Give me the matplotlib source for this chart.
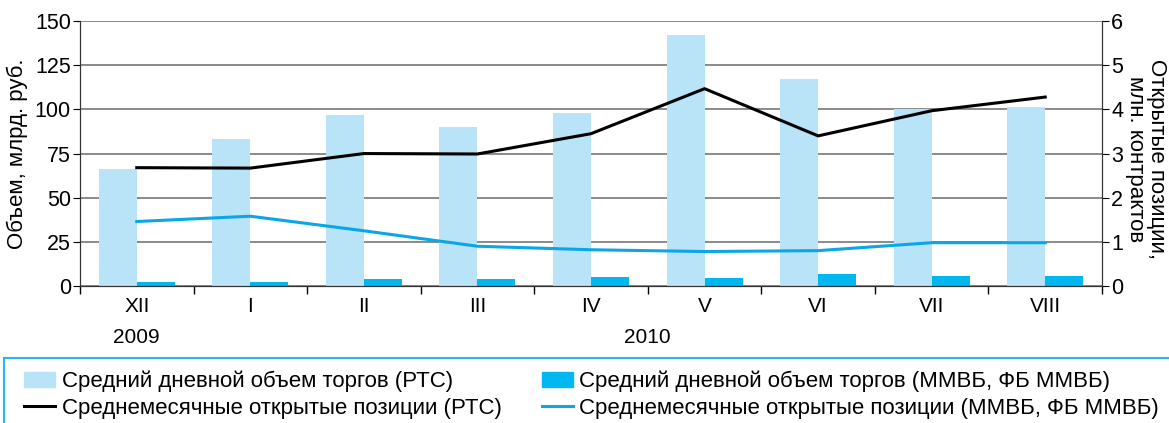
import numpy as np
import matplotlib.pyplot as plt
from matplotlib.patches import Rectangle, Patch
from matplotlib.lines import Line2D

plt.rcParams['font.family'] = ['Liberation Sans', 'DejaVu Sans']

# Data
months = ["XII", "I", "II", "III", "IV", "V", "VI", "VII", "VIII"]
vol_rts = [66, 83.5, 97, 90, 98, 142, 117.5, 100, 101.5]
vol_micex = [2.2, 2.2, 4, 4, 5, 4.5, 6.8, 5.5, 5.5]
oi_rts = [2.68, 2.67, 3.0, 2.99, 3.45, 4.47, 3.4, 3.97, 4.28]
oi_micex = [1.46, 1.58, 1.25, 0.9, 0.82, 0.78, 0.8, 0.98, 0.98]

light = '#b9e3f7'
dark = '#00b8ef'
blue_line = '#0aa6e6'

fig = plt.figure(figsize=(11.69, 4.23), dpi=100)
ax = fig.add_axes([80 / 1169, 0.324, 1022 / 1169, 0.626])
ax2 = ax.twinx()

x = np.arange(len(months))
w = 0.335
ax.bar(x - w / 2, vol_rts, w, color=light, zorder=2)
ax.bar(x + w / 2, vol_micex, w, color=dark, zorder=2)
ax2.plot(x, oi_rts, color='black', lw=2.2)
ax2.plot(x, oi_micex, color=blue_line, lw=2.2)

ax.set_xlim(-0.5, len(months) - 0.5)
ax.set_ylim(0, 150)
ax2.set_ylim(0, 6)
ax.set_yticks(np.arange(0, 151, 25))
ax2.set_yticks(np.arange(0, 7, 1))
ax.yaxis.grid(True, color='#777777', lw=1.2, zorder=0)
ax.set_axisbelow(True)

ax.set_xticks(x)
ax.set_xticklabels(months)
ax.set_xticks(np.arange(-0.5, len(months), 1), minor=True)
ax.tick_params(axis='x', which='major', length=0, labelsize=15, pad=8)
ax.tick_params(axis='x', which='minor', length=6, width=1)
ax.tick_params(axis='y', labelsize=15.5, length=5, direction='out', pad=1.5)
ax2.tick_params(axis='y', labelsize=15.5, length=5, direction='out', pad=1.5)

for a in (ax, ax2):
    a.spines['top'].set_visible(False)
    for s in ('left', 'right', 'bottom'):
        a.spines[s].set_color('#333333')

ax.set_ylabel("Объем, млрд. руб.", fontsize=16, labelpad=5)
fig.text(1146 / 1169, 1 - 159 / 423, "Открытые позиции,\nмлн. контрактов", fontsize=16,
         rotation=270, ha='center', va='center', linespacing=1.0, multialignment='center')

# year labels
ax.text(0, -0.16, "2009", transform=ax.get_xaxis_transform(), ha='center', va='top', fontsize=15)
ax.text(4.5, -0.16, "2010", transform=ax.get_xaxis_transform(), ha='center', va='top', fontsize=15)

# legend box
fig.patches.append(Rectangle((4 / 1169, -0.02), 1.1, 1 - 358 / 423 + 0.02, transform=fig.transFigure,
                             fill=False, edgecolor='#29b6ec', lw=1.5))
handles = [Patch(color=light), Patch(color=dark),
           Line2D([], [], color='black', lw=2.2), Line2D([], [], color=blue_line, lw=2.2)]
labels = ["Средний дневной объем торгов (РТС)",
          "Средний дневной объем торгов (ММВБ, ФБ ММВБ)",
          "Среднемесячные открытые позиции (РТС)",
          "Среднемесячные открытые позиции (ММВБ, ФБ ММВБ)"]
order = [0, 2, 1, 3]
fig.legend([handles[i] for i in order], [labels[i] for i in order], ncol=2,
           loc='center left', bbox_to_anchor=(24 / 1169, 1 - 394.5 / 423), frameon=False,
           fontsize=16, handlelength=1.4, handleheight=0.65, handletextpad=0.3,
           columnspacing=1.8, labelspacing=0.25, borderpad=0, borderaxespad=0)

fig.savefig('out.png', dpi=100)
